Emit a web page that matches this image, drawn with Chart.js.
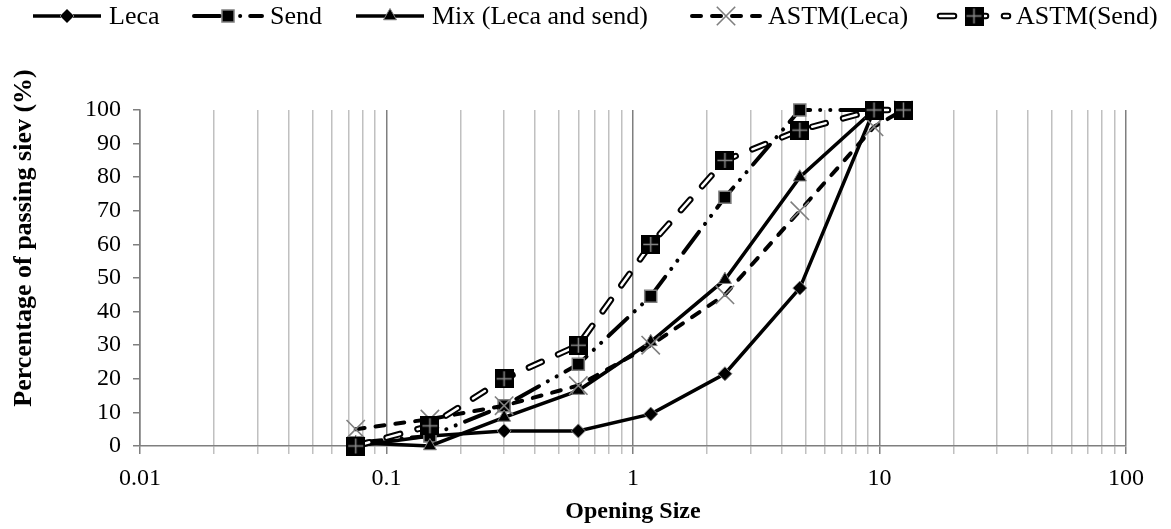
<!DOCTYPE html>
<html>
<head>
<meta charset="utf-8">
<title>Sieve analysis</title>
<script src="https://cdn.jsdelivr.net/npm/chart.js@4.4.0/dist/chart.umd.min.js"></script>
<style>
  html, body { margin: 0; padding: 0; background: #ffffff; }
  #grafico { display: block; }
</style>
</head>
<body>
<canvas id="grafico" width="1171" height="529"></canvas>
<script>
// ==========================================
// DATA
// ==========================================

// sieve opening sizes (mm)
const sieveSizes = [0.075, 0.15, 0.3, 0.6, 1.18, 2.36, 4.75, 9.5, 12.5];

// percentage passing, same order as sieveSizes
const lecaPassing     = [0, 3, 4.5, 4.5, 9.5, 21.5, 47, 100];
const sendPassing     = [1, 3, 12, 24.3, 44.6, 74, 100, 100];
const mixPassing      = [1, 0, 8.5, 16.5, 31, 49.5, 80, 100];
const astmLecaPassing = [5, 8, 12, 18, 30, 45, 70, 95, 100];
const astmSendPassing = [0, 6, 20, 30, 60, 85, 94, 100, 100];

const seriesNames = ['Leca', 'Send', 'Mix (Leca and send)', 'ASTM(Leca)', 'ASTM(Send)'];

// axis ticks
const xDecades = [0.01, 0.1, 1, 10, 100];
const xMultipliers = [1, 2, 3, 4, 5, 6, 7, 8, 9];
const yMin = 0, yMax = 100, yStep = 10;

const xTitle = 'Opening Size';
const yTitle = 'Percentage of passing siev (%)';

// ==========================================
// STYLE
// ==========================================
const FONTE = "'Liberation Serif', 'Times New Roman', serif";
const CINZA = '#7f7f7f';
const CINZA_CLARO = '#c0c0c0';

Chart.defaults.font.family = FONTE;
Chart.defaults.color = '#000';

// gridline values: 1..9 for each decade, plus the last one
const xGridValues = [];
xDecades.slice(0, -1).forEach(d => {
    xMultipliers.forEach(m => xGridValues.push(+(d * m).toPrecision(6)));
});
xGridValues.push(xDecades[xDecades.length - 1]);

function toPoints(values) {
    return values.map((v, i) => ({ x: sieveSizes[i], y: v }));
}

// ASTM(Send) marker: black square with a grey plus inside
function criarMarcadorQuadradoCruz(lado) {
    const c = document.createElement('canvas');
    c.width = lado; c.height = lado;
    const g = c.getContext('2d');
    g.fillStyle = '#000';
    g.fillRect(0, 0, lado, lado);
    g.strokeStyle = '#8a8a8a';
    g.lineWidth = 1.5;
    g.beginPath();
    g.moveTo(lado / 2, 2); g.lineTo(lado / 2, lado - 2);
    g.moveTo(2, lado / 2); g.lineTo(lado - 2, lado / 2);
    g.stroke();
    return c;
}
const marcadorAstmSend = criarMarcadorQuadradoCruz(19);

const datasets = [
    {
        label: seriesNames[0],
        data: toPoints(lecaPassing),
        showLine: true,
        borderColor: '#000',
        borderWidth: 3.5,
        pointStyle: 'rectRot',
        pointRadius: 7,
        pointBackgroundColor: '#000',
        pointBorderColor: CINZA,
        pointBorderWidth: 1,
        order: 6
    },
    {
        label: seriesNames[1],
        data: toPoints(sendPassing),
        showLine: true,
        borderColor: '#000',
        borderWidth: 4,
        borderDash: [26, 10, 0.1, 10, 0.1, 10],  // long dash, dot, dot
        borderCapStyle: 'round',
        pointStyle: 'rect',
        pointRadius: 8.5,
        pointBackgroundColor: '#000',
        pointBorderColor: CINZA,
        pointBorderWidth: 1.5,
        order: 5
    },
    {
        label: seriesNames[2],
        data: toPoints(mixPassing),
        showLine: true,
        borderColor: '#000',
        borderWidth: 3.5,
        pointStyle: 'triangle',
        pointRadius: 7.5,
        pointBackgroundColor: '#000',
        pointBorderColor: CINZA,
        pointBorderWidth: 1,
        order: 4
    },
    {
        label: seriesNames[3],
        data: toPoints(astmLecaPassing),
        showLine: true,
        borderColor: '#000',
        borderWidth: 4,
        borderDash: [9, 11],
        borderCapStyle: 'round',
        pointStyle: 'crossRot',
        pointRadius: 13,
        pointBorderColor: CINZA,
        pointBorderWidth: 1.6,
        order: 3
    },
    // ASTM(Send) is a hollow dashed line: black outline + white core + markers
    {
        label: seriesNames[4],
        data: toPoints(astmSendPassing),
        showLine: true,
        borderColor: '#000',
        borderWidth: 6.5,
        borderDash: [14, 18],
        borderCapStyle: 'round',
        pointRadius: 0,
        order: 2
    },
    {
        label: seriesNames[4] + ' core',
        data: toPoints(astmSendPassing),
        showLine: true,
        borderColor: '#fff',
        borderWidth: 2.5,
        borderDash: [14, 18],
        borderCapStyle: 'round',
        pointRadius: 0,
        order: 1
    },
    {
        label: seriesNames[4] + ' markers',
        data: toPoints(astmSendPassing),
        showLine: false,
        pointStyle: marcadorAstmSend,
        pointRadius: 10,
        order: 0
    }
];
datasets.forEach(ds => { ds.clip = false; ds.tension = 0; });

// legend entries: which datasets draw the line, which one gives the marker
const legendItems = [
    { linhas: [0], marcador: 0, textoX: 109 },
    { linhas: [1], marcador: 1, textoX: 270 },
    { linhas: [2], marcador: 2, textoX: 432 },
    { linhas: [3], marcador: 3, textoX: 768 },
    { linhas: [4, 5], marcador: 6, textoX: 1016 }
];

function desenharLinha(ctx, ds, x0, x1, y) {
    ctx.save();
    ctx.beginPath();
    ctx.moveTo(x0, y);
    ctx.lineTo(x1, y);
    ctx.setLineDash(ds.borderDash || []);
    ctx.lineCap = ds.borderCapStyle || 'butt';
    ctx.lineWidth = ds.borderWidth;
    ctx.strokeStyle = ds.borderColor;
    ctx.stroke();
    ctx.restore();
}

function desenharMarcador(ctx, ds, x, y) {
    ctx.save();
    ctx.fillStyle = ds.pointBackgroundColor || '#000';
    ctx.strokeStyle = ds.pointBorderColor || '#000';
    ctx.lineWidth = ds.pointBorderWidth || 0;
    Chart.helpers.drawPoint(ctx, {
        pointStyle: ds.pointStyle,
        radius: ds.pointRadius,
        rotation: 0,
        borderWidth: ds.pointBorderWidth || 0
    }, x, y);
    ctx.restore();
}

// custom legend + axis titles
const pluginTextos = {
    id: 'textos',
    afterDraw(chart) {
        const ctx = chart.ctx;
        const legY = 16;

        legendItems.forEach((item, i) => {
            const x1 = item.textoX - 8;
            const x0 = x1 - 68;
            item.linhas.forEach(idx => desenharLinha(ctx, datasets[idx], x0, x1, legY));
            desenharMarcador(ctx, datasets[item.marcador], (x0 + x1) / 2, legY);

            ctx.save();
            ctx.font = '26px ' + FONTE;
            ctx.fillStyle = '#000';
            ctx.textBaseline = 'middle';
            ctx.textAlign = 'left';
            ctx.fillText(seriesNames[i], item.textoX, legY + 1);
            ctx.restore();
        });

        const area = chart.chartArea;
        ctx.save();
        ctx.fillStyle = '#000';
        ctx.textAlign = 'center';
        ctx.textBaseline = 'middle';
        ctx.font = 'bold 24px ' + FONTE;
        ctx.fillText(xTitle, (area.left + area.right) / 2, 512);

        ctx.font = 'bold 26px ' + FONTE;
        ctx.translate(24, 238);
        ctx.rotate(-Math.PI / 2);
        ctx.fillText(yTitle, 0, 0);
        ctx.restore();
    }
};

const ctx = document.getElementById('grafico').getContext('2d');

new Chart(ctx, {
    type: 'scatter',
    data: { datasets: datasets },
    options: {
        responsive: false,
        animation: false,
        devicePixelRatio: 1,
        layout: { padding: { top: 110, right: 45, bottom: 0, left: 0 } },
        plugins: {
            legend: { display: false },
            tooltip: { enabled: false }
        },
        scales: {
            x: {
                type: 'logarithmic',
                min: xDecades[0],
                max: xDecades[xDecades.length - 1],
                afterBuildTicks: scale => {
                    scale.ticks = xGridValues.map(v => ({ value: v, major: xDecades.includes(v) }));
                },
                afterFit: scale => { scale.height = 83; },
                ticks: {
                    autoSkip: false,
                    maxRotation: 0,
                    padding: 10,
                    font: { size: 24 },
                    color: '#000',
                    callback: value => xDecades.includes(value) ? String(value) : ''
                },
                grid: {
                    drawOnChartArea: true,
                    drawTicks: true,
                    tickLength: 8,
                    lineWidth: 1.5,
                    color: c => (c.tick && xDecades.includes(c.tick.value)) ? CINZA : CINZA_CLARO
                },
                border: { display: true, color: CINZA, width: 1.5 }
            },
            y: {
                type: 'linear',
                min: yMin,
                max: yMax,
                afterFit: scale => { scale.width = 140; },
                ticks: {
                    stepSize: yStep,
                    padding: 12,
                    font: { size: 24 },
                    color: '#000'
                },
                grid: {
                    drawOnChartArea: false,
                    drawTicks: true,
                    tickLength: 7,
                    lineWidth: 1.5,
                    color: CINZA
                },
                border: { display: true, color: CINZA, width: 1.5 }
            }
        }
    },
    plugins: [pluginTextos]
});
</script>
</body>
</html>
